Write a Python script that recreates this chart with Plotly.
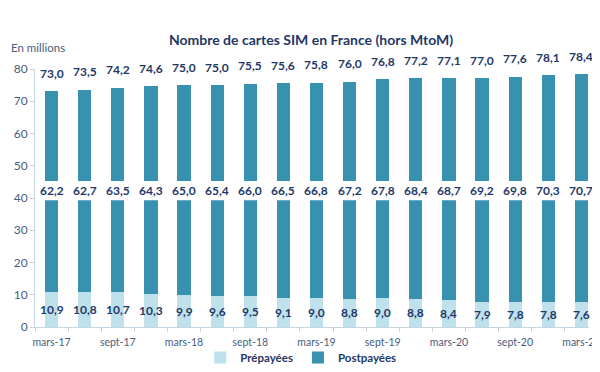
import plotly.graph_objects as go

# ---- data ----
categories = ["mars-17", "juin-17", "sept-17", "déc-17",
              "mars-18", "juin-18", "sept-18", "déc-18",
              "mars-19", "juin-19", "sept-19", "déc-19",
              "mars-20", "juin-20", "sept-20", "déc-20",
              "mars-21"]
prepayees = [10.9, 10.8, 10.7, 10.3, 9.9, 9.6, 9.5, 9.1, 9.0, 8.8, 9.0, 8.8, 8.4, 7.9, 7.8, 7.8, 7.6]
postpayees = [62.2, 62.7, 63.5, 64.3, 65.0, 65.4, 66.0, 66.5, 66.8, 67.2, 67.8, 68.4, 68.7, 69.2, 69.8, 70.3, 70.7]
totaux = [73.0, 73.5, 74.2, 74.6, 75.0, 75.0, 75.5, 75.6, 75.8, 76.0, 76.8, 77.2, 77.1, 77.0, 77.6, 78.1, 78.4]
y_ticks = [0, 10, 20, 30, 40, 50, 60, 70, 80]

# ---- styles ----
FONT = "Lato"
C_POST = "#3791AF"
C_PRE = "#BFE1EC"
NAVY = "#1F3868"
AXIS_TXT = "#4A5C7E"
AXIS_LINE = "#C5D5E2"
GAP_LOW, GAP_HIGH, GAP_LABEL = 39.3, 45.3, 42.2

# page body has an 8px margin: figure is placed at (8, 8)
OFF = 8
W, H = 600 - OFF, 372 - OFF
L, T = 35 - OFF, 69 - OFF
PLOT_BOTTOM = 327 - OFF
PW, PH = W - L, PLOT_BOTTOM - T


def fr(v):
    return f"{v:.1f}".replace(".", ",")


fig = go.Figure()
fig.add_trace(go.Bar(x=categories, y=prepayees, name="Prépayées",
                     marker=dict(color=C_PRE, line=dict(width=0)), width=0.4))
fig.add_trace(go.Bar(x=categories, y=postpayees, name="Postpayées",
                     marker=dict(color=C_POST, line=dict(width=0)), width=0.4))

# white band for the axis break
fig.add_shape(type="rect", xref="x", yref="y", x0=-0.45, x1=17, y0=GAP_LOW, y1=GAP_HIGH,
              fillcolor="white", line=dict(width=0), layer="above")

lab_font = dict(family=FONT, size=12, color=NAVY, weight="bold")
ann = []
for i, c in enumerate(categories):
    ann.append(dict(x=c, y=totaux[i], xref="x", yref="y", text=fr(totaux[i]),
                    showarrow=False, yanchor="middle", yshift=18, font=lab_font))
    ann.append(dict(x=c, y=GAP_LABEL, xref="x", yref="y", text=fr(postpayees[i]),
                    showarrow=False, yanchor="middle", font=lab_font))
    ann.append(dict(x=c, y=prepayees[i] / 2, xref="x", yref="y", text=fr(prepayees[i]),
                    showarrow=False, yanchor="middle", font=lab_font))

ann.append(dict(x=-L / PW, y=(PLOT_BOTTOM - (47 - OFF)) / PH, xref="paper", yref="paper",
                text="En millions", showarrow=False, xanchor="left", yanchor="middle",
                font=dict(family=FONT, size=11.5, color=AXIS_TXT)))

fig.update_layout(
    width=W, height=H,
    margin=dict(l=L, r=0, t=T, b=H - PLOT_BOTTOM, pad=0),
    paper_bgcolor="white", plot_bgcolor="white",
    barmode="stack", bargap=0.6,
    title=dict(text="Nombre de cartes SIM en France (hors MtoM)",
               x=(311 - OFF) / W, xanchor="center", xref="container",
               y=1 - (40 - OFF) / H, yanchor="middle", yref="container",
               font=dict(family=FONT, size=14, color=NAVY, weight="bold")),
    annotations=ann,
    showlegend=True,
    legend=dict(orientation="h", traceorder="normal",
                x=(306 - OFF - L) / PW, xanchor="center",
                y=(PLOT_BOTTOM - (358 - OFF)) / PH, yanchor="middle",
                font=dict(family=FONT, size=11.5, color=NAVY, weight="bold"),
                itemwidth=30, bgcolor="rgba(0,0,0,0)"),
    xaxis=dict(type="category", range=[-0.5, 16.23],
               tickmode="array", tickvals=categories,
               ticktext=[c if i % 2 == 0 else "" for i, c in enumerate(categories)],
               tickson="boundaries", ticks="outside", ticklen=4, tickcolor=AXIS_LINE,
               showline=True, linecolor=AXIS_LINE, linewidth=1,
               showgrid=False, tickangle=0, ticklabelstandoff=5,
               tickfont=dict(family=FONT, size=10.5, color=AXIS_TXT)),
    yaxis=dict(range=[0, 80], tickmode="array", tickvals=y_ticks,
               ticks="outside", ticklen=4, tickcolor=AXIS_LINE,
               showline=True, linecolor=AXIS_LINE, linewidth=1,
               showgrid=False, zeroline=False,
               tickfont=dict(family=FONT, size=12, color=AXIS_TXT)),
)

fig.write_html("out.html")
